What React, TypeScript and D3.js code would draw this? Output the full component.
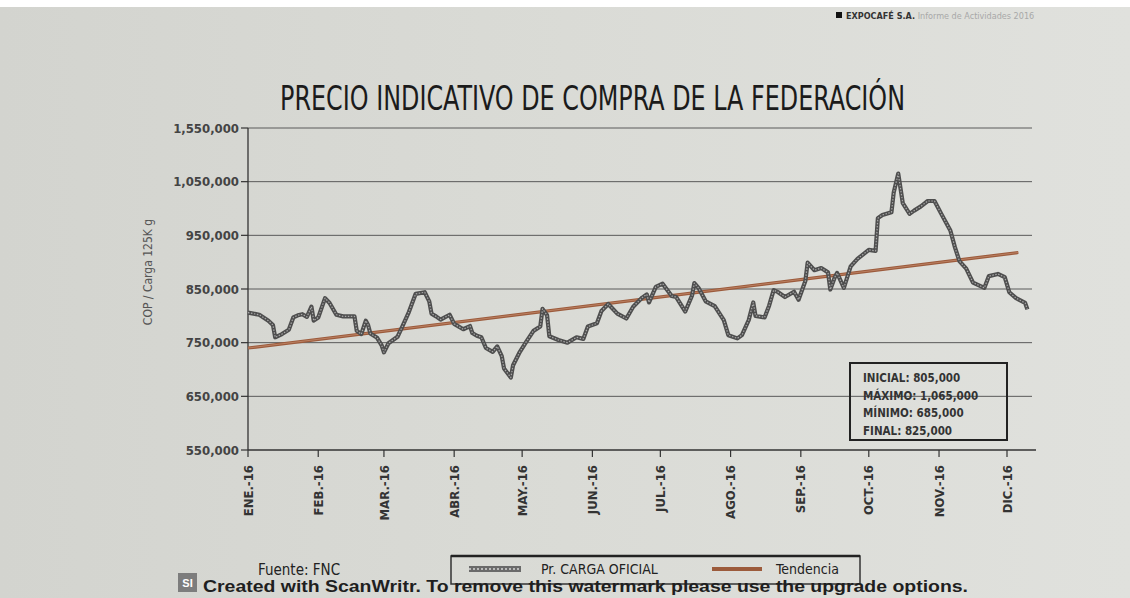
import React from "react";
import * as d3 from "d3";

const monthLabels = ["ENE.-16","FEB.-16","MAR.-16","ABR.-16","MAY.-16","JUN.-16","JUL.-16","AGO.-16","SEP.-16","OCT.-16","NOV.-16","DIC.-16"];
const yTickValues = [550000, 650000, 750000, 850000, 950000, 1050000, 1150000];
const yTickLabels = ["550,000","650,000","750,000","850,000","950,000","1,050,000","1,550,000"];

// day of year 2016 (0 = 1 Jan) and price in thousands COP
const priceDays = [0,5,9,11,12,15,18,20,22,24,26,28,29,31,34,36,39,42,47,48,50,52,53,54,57,59,60,62,66,68,71,74,78,80,81,83,85,89,91,95,98,99,101,103,105,108,110,112,113,116,117,120,123,126,129,130,132,133,137,141,145,148,150,154,156,159,163,167,170,174,176,177,180,183,187,189,193,196,197,199,202,206,210,212,216,218,221,223,224,228,230,232,234,237,241,243,246,247,250,253,256,257,259,260,263,266,269,274,277,278,280,284,285,287,289,292,294,297,300,303,306,310,312,314,317,320,325,327,331,334,336,339,343,344];
const priceValues = [806,802,791,783,760,766,774,797,801,803,798,817,791,797,833,824,802,799,799,772,766,791,783,767,759,745,732,749,761,779,807,841,844,827,804,799,793,802,785,775,781,768,763,760,740,733,743,725,702,685,708,733,753,772,780,813,801,762,755,750,760,757,780,786,809,822,804,795,817,834,840,825,854,860,837,835,808,838,861,851,827,818,792,764,758,764,792,825,800,797,819,848,844,835,845,830,865,899,885,889,881,849,872,880,852,892,906,923,921,982,988,993,1030,1065,1010,990,996,1004,1014,1014,990,959,928,902,888,862,852,874,878,872,844,833,824,812];

const trendDays = [0, 340];
const trendValues = [740, 918];

const statsLines = ["INICIAL: 805,000", "MÁXIMO: 1,065,000", "MÍNIMO: 685,000", "FINAL: 825,000"];
const legendLabels = ["Pr. CARGA OFICIAL", "Tendencia"];

const COND = "'Liberation Sans Narrow','DejaVu Sans Condensed','Roboto','Noto Sans',sans-serif";

export default function App() {
  const start = new Date(2016, 0, 1);
  const toDate = (d: number) => d3.timeDay.offset(start, d);
  const x = d3.scaleTime().domain([start, new Date(2016, 11, 1)]).range([248, 1007]);
  const y = d3.scaleLinear().domain([550000, 1150000]).range([450, 128]);

  const pts = priceDays.map((d, i) => [x(toDate(d)), y(priceValues[i] * 1000)] as [number, number]);
  const line = d3.line<[number, number]>().x(p => p[0]).y(p => p[1]);
  const pricePath = line(pts) || "";
  const trendPath = line(trendDays.map((d, i) => [x(toDate(d)), y(trendValues[i] * 1000)] as [number, number])) || "";

  const months = d3.timeMonth.range(start, new Date(2016, 11, 2));
  const x0 = x(start);
  const gridEnd = 1032;

  return (
    <svg width={1130} height={598} style={{ position: "absolute", left: 0, top: 0 }}>
      <defs>
        <linearGradient id="paper" x1="0" x2="1" y1="0" y2="0">
          <stop offset="0" stopColor="#d3d4cf" />
          <stop offset="0.5" stopColor="#dadbd6" />
          <stop offset="1" stopColor="#e0e1dd" />
        </linearGradient>
      </defs>
      <rect x={0} y={0} width={1130} height={598} fill="url(#paper)" />
      <rect x={0} y={0} width={1130} height={7} fill="#ffffff" />

      {/* header */}
      <rect x={836} y={12} width={6} height={6} fill="#111" />
      <text x={846} y={19} fontFamily={COND} fontSize={9} fontWeight="bold" fill="#333">EXPOCAFÉ S.A.<tspan fill="#a8a8a8" fontWeight="normal"> Informe de Actividades 2016</tspan></text>

      {/* title */}
      <text x={280} y={110} fontFamily={COND} fontSize={34} fill="#1b1b1b" textLength={625} lengthAdjust="spacingAndGlyphs">PRECIO INDICATIVO DE COMPRA DE LA FEDERACIÓN</text>

      {/* gridlines */}
      {yTickValues.slice(1).map(v => (
        <line key={v} x1={x0} x2={gridEnd} y1={y(v)} y2={y(v)} stroke="#5a5a5a" strokeWidth={1} />
      ))}

      {/* axes */}
      <line x1={x0} x2={x0} y1={y(1150000)} y2={y(550000)} stroke="#333" strokeWidth={1.3} />
      <line x1={x0} x2={1036} y1={y(550000)} y2={y(550000)} stroke="#333" strokeWidth={1.3} />
      {yTickValues.map((v, i) => (
        <g key={v}>
          <line x1={x0 - 7} x2={x0} y1={y(v)} y2={y(v)} stroke="#333" strokeWidth={1.2} />
          <text x={x0 - 9} y={y(v)} dy="0.35em" textAnchor="end" fontFamily={COND} fontSize={13} fontWeight="bold" fill="#444">{yTickLabels[i]}</text>
        </g>
      ))}
      {months.map((m, i) => (
        <g key={i}>
          <line x1={x(m)} x2={x(m)} y1={y(550000)} y2={y(550000) + 7} stroke="#333" strokeWidth={1.2} />
          <text transform={`translate(${x(m)},${y(550000) + 15}) rotate(-90)`} dy="0.35em" textAnchor="end" fontFamily={COND} fontSize={13} fontWeight="bold" fill="#333">{monthLabels[i]}</text>
        </g>
      ))}
      <text transform="translate(152,272) rotate(-90)" textAnchor="middle" fontFamily={COND} fontSize={12} fill="#555">COP / Carga 125K g</text>

      {/* trend */}
      <path d={trendPath} fill="none" stroke="#9c5b3c" strokeWidth={3.2} />
      <path d={trendPath} fill="none" stroke="#c38a6c" strokeWidth={0.8} />
      {/* price */}
      <path d={pricePath} fill="none" stroke="#4e4e4e" strokeWidth={4.2} strokeLinejoin="round" />
      <path d={pricePath} fill="none" stroke="#a9a9a9" strokeWidth={1.2} strokeDasharray="1.5 1.5" strokeLinejoin="round" />

      {/* stats box */}
      <rect x={850} y={363} width={157} height={77} fill="none" stroke="#222" strokeWidth={2} />
      {statsLines.map((s, i) => (
        <text key={s} x={863} y={382 + i * 17.5} fontFamily={COND} fontSize={11.5} fontWeight="bold" fill="#333">{s}</text>
      ))}

      {/* legend */}
      <rect x={451} y={556} width={409} height={28} fill="none" stroke="#333" strokeWidth={1.5} />
      <line x1={451} x2={860} y1={556} y2={556} stroke="#222" strokeWidth={2.5} />
      <line x1={469} x2={521} y1={569} y2={569} stroke="#6a6a6a" strokeWidth={6} />
      <line x1={469} x2={521} y1={569} y2={569} stroke="#bbbbbb" strokeWidth={2} strokeDasharray="2 2" />
      <text x={541} y={574} fontFamily={COND} fontSize={14} fill="#222">{legendLabels[0]}</text>
      <line x1={712} x2={762} y1={569} y2={569} stroke="#9c5b3c" strokeWidth={4} />
      <text x={776} y={574} fontFamily={COND} fontSize={14} fill="#222">{legendLabels[1]}</text>

      <text x={258} y={575} fontFamily={COND} fontSize={15} fill="#222">Fuente: FNC</text>

      {/* watermark */}
      <rect x={178} y={573} width={19} height={19} fill="#7d7d7d" />
      <text x={187.5} y={587} textAnchor="middle" fontFamily="'Liberation Sans',Arial,sans-serif" fontSize={11} fontWeight="bold" fill="#fff">SI</text>
      <text x={203} y={592} fontFamily="'Liberation Sans',Arial,sans-serif" fontSize={16} fontWeight="bold" fill="#1f1f1f" textLength={765} lengthAdjust="spacingAndGlyphs">Created with ScanWritr. To remove this watermark please use the upgrade options.</text>
    </svg>
  );
}
